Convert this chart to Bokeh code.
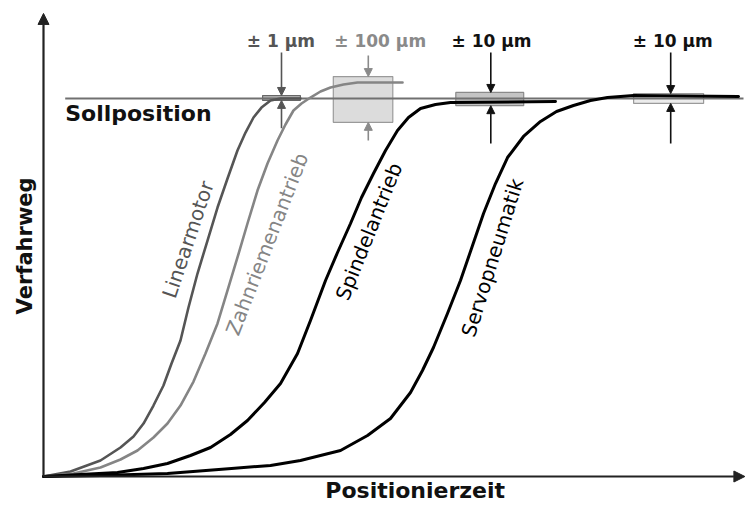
from bokeh.plotting import figure
from bokeh.models import Range1d, Arrow, NormalHead
from bokeh.core.properties import value
from bokeh.embed import file_html
from bokeh.resources import INLINE
import math

# ---- data (time units 0..100, travel in % of target position) ----
lin_x = [0, 3.86, 8.14, 11.0, 12.86, 14.29, 15.71, 17.14, 18.29, 19.57, 20.71, 22.0, 23.43, 24.86,
         26.29, 27.71, 28.86, 30.0, 31.14, 32.43, 33.86, 36.71]
lin_y = [0, 1.32, 4.23, 7.67, 10.58, 14.02, 18.78, 24.07, 29.89, 35.98, 44.71, 53.7, 62.43, 71.16,
         78.84, 86.24, 91.0, 94.97, 97.6, 99.47, 100.0, 100.0]

zahn_x = [0, 4.29, 8.14, 11.0, 13.43, 15.71, 17.71, 19.57, 21.43, 23.14, 24.86, 26.29, 27.71, 29.14,
          30.57, 32.0, 33.43, 34.57, 35.71, 36.86, 38.14, 39.57, 41.0, 42.86, 44.86, 51.29]
zahn_y = [0, 0.79, 2.38, 4.5, 6.88, 10.32, 14.02, 18.78, 25.13, 32.54, 40.48, 49.21, 57.94, 66.93,
          75.66, 82.8, 88.89, 93.12, 96.83, 98.68, 100.26, 101.85, 102.91, 103.7, 104.23, 104.23]

spin_x = [0, 5.29, 10.57, 14.29, 17.71, 21.0, 23.86, 26.71, 29.14, 31.57, 33.86, 36.29, 38.14, 40.29,
          42.0, 43.86, 45.43, 47.14, 48.86, 50.57, 52.14, 53.86, 56.0, 58.14, 73.14]
spin_y = [0, 0.53, 1.06, 2.12, 3.44, 5.56, 7.67, 11.11, 14.81, 19.58, 24.6, 32.54, 41.27, 51.85,
          59.26, 66.93, 73.81, 80.16, 86.24, 91.53, 94.97, 97.35, 98.41, 98.94, 99.21]

servo_x = [0, 8.14, 17.71, 26.86, 32.43, 36.71, 42.43, 46.29, 49.57, 52.43, 54.14, 55.71, 57.71, 59.57,
           61.29, 62.86, 64.57, 66.29, 68.57, 71.0, 73.29, 75.71, 78.14, 80.57, 84.29, 99.29]
servo_y = [0, 0.26, 0.79, 2.12, 2.91, 4.23, 6.88, 10.85, 15.34, 22.22, 28.04, 34.13, 43.12, 51.85,
           61.11, 69.58, 77.51, 84.39, 89.95, 93.92, 96.56, 98.15, 99.47, 100.26, 100.79, 100.53]

curve_names = ["Linearmotor", "Zahnriemenantrieb", "Spindelantrieb", "Servopneumatik"]
curve_colors = ["#555555", "#858585", "#000000", "#000000"]
label_x = [20.64, 31.93, 46.5, 64.14]
label_y = [62.7, 61.5, 64.8, 57.9]
label_angle_deg = [71.4, 68.7, 68.1, 72.6]

soll_y = 100
soll_x = [3.1, 100.0]

tol_text = ["± 1 µm", "± 100 µm", "± 10 µm", "± 10 µm"]
tol_text_color = ["#555555", "#8a8a8a", "#111111", "#111111"]
tol_text_x = [33.9, 48.1, 64.0, 89.9]
tol_text_y = [115.3, 115.3, 115.3, 115.3]
tol_arrow_x = [34.0, 46.4, 63.9, 89.6]
tol_down_start = [112.2, 111.4, 112.2, 112.2]
tol_band_top = [100.8, 105.8, 101.6, 101.3]
tol_band_bottom = [99.5, 93.7, 98.1, 98.7]
tol_up_start = [92.1, 88.9, 88.1, 88.1]
band_left = [31.3, 41.4, 58.9, 84.3]
band_right = [36.7, 49.9, 68.6, 94.3]
band_fill = ["#aaaaaa", "#dcdcdc", "#c4c4c4", "#ececec"]
band_line = ["#666666", "#9a9a9a", "#8a8a8a", "#9a9a9a"]

x_max = 100.2
y_max = 122.5

W, H = 748, 505
X0, SX = 43, 7.0
Y0, SY = 476, 3.78

p = figure(width=W, height=H,
           x_range=Range1d(-X0 / SX, (W - X0) / SX),
           y_range=Range1d(-(H - Y0) / SY, Y0 / SY),
           x_axis_type=None, y_axis_type=None,
           output_backend="svg", toolbar_location=None, min_border=0)
p.grid.visible = False
p.outline_line_color = None
p.background_fill_color = "white"

# tolerance bands
p.quad(left=band_left, right=band_right, bottom=tol_band_bottom, top=tol_band_top,
       fill_color=band_fill, line_color=band_line, line_width=1.2)

# target position line
p.line(soll_x, [soll_y, soll_y], line_color="#707070", line_width=2)

# curves
for xs, ys, c, w in [(lin_x, lin_y, curve_colors[0], 2.6), (zahn_x, zahn_y, curve_colors[1], 2.6),
                     (spin_x, spin_y, curve_colors[2], 3), (servo_x, servo_y, curve_colors[3], 3)]:
    p.line(xs, ys, line_color=c, line_width=w, line_join="round", line_cap="round")

# axes with arrows
p.add_layout(Arrow(x_start=0, y_start=0, x_end=0, y_end=y_max, line_color="#222222", line_width=2.2,
                   end=NormalHead(size=11, fill_color="#222222", line_color="#222222")))
p.add_layout(Arrow(x_start=0, y_start=0, x_end=x_max, y_end=0, line_color="#222222", line_width=2.2,
                   end=NormalHead(size=11, fill_color="#222222", line_color="#222222")))

# tolerance arrows
for i in range(4):
    col = tol_text_color[i]
    p.add_layout(Arrow(x_start=tol_arrow_x[i], y_start=tol_down_start[i],
                       x_end=tol_arrow_x[i], y_end=tol_band_top[i],
                       line_color=col, line_width=1.6,
                       end=NormalHead(size=8, fill_color=col, line_color=col)))
    p.add_layout(Arrow(x_start=tol_arrow_x[i], y_start=tol_up_start[i],
                       x_end=tol_arrow_x[i], y_end=tol_band_bottom[i],
                       line_color=col, line_width=1.6,
                       end=NormalHead(size=8, fill_color=col, line_color=col)))

# tolerance labels
p.text(x=tol_text_x, y=tol_text_y, text=tol_text, text_color=tol_text_color,
       text_font=value("DejaVu Sans"), text_font_style="bold", text_font_size="17px",
       text_align="center", text_baseline="middle")

# curve labels
p.text(x=label_x, y=label_y, text=curve_names, text_color=curve_colors,
       angle=[math.radians(a) for a in label_angle_deg],
       text_font=value("DejaVu Sans"), text_font_size="20px",
       text_align="center", text_baseline="middle")

# Sollposition
p.text(x=[3.1], y=[96.0], text=["Sollposition"], text_color="#111111",
       text_font=value("DejaVu Sans"), text_font_style="bold", text_font_size="22px",
       text_align="left", text_baseline="middle")

# axis titles
p.text(x=[53.1], y=[-3.7], text=["Positionierzeit"], text_color="#111111",
       text_font=value("DejaVu Sans"), text_font_style="bold", text_font_size="22px",
       text_align="center", text_baseline="middle")
p.text(x=[-2.6], y=[61.0], text=["Verfahrweg"], text_color="#111111", angle=[math.pi / 2],
       text_font=value("DejaVu Sans"), text_font_style="bold", text_font_size="21px",
       text_align="center", text_baseline="middle")

open("out.html", "w").write(file_html(p, INLINE))
